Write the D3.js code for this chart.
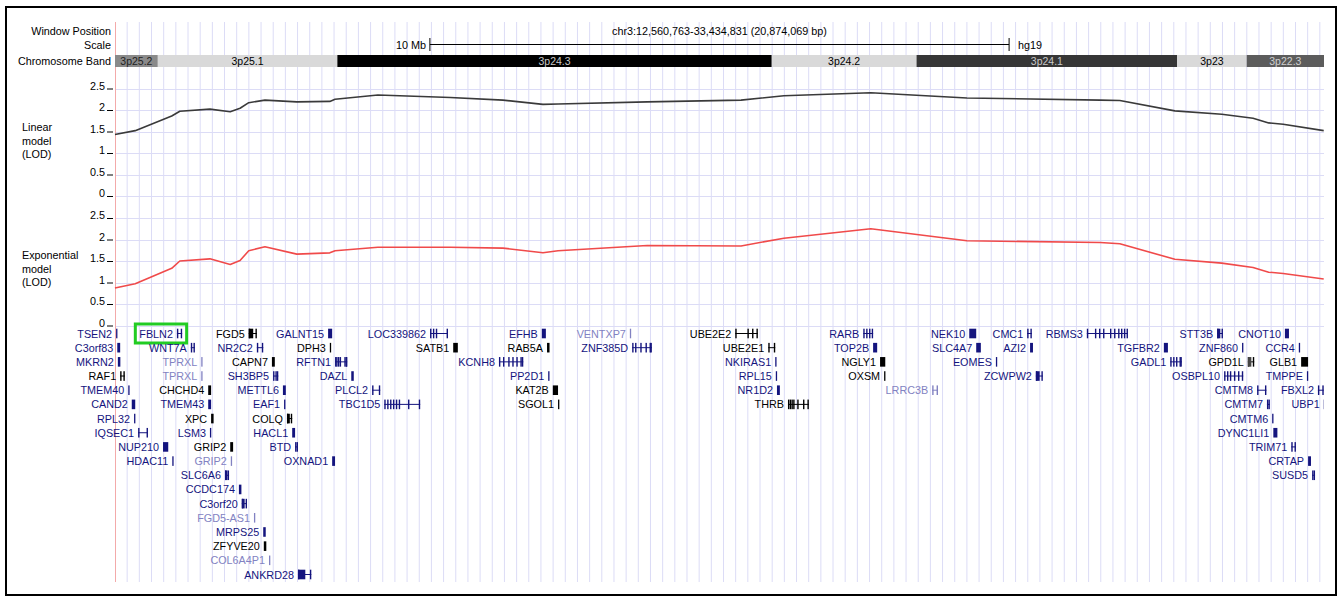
<!DOCTYPE html>
<html>
<head>
<meta charset="utf-8">
<script src="https://cdn.jsdelivr.net/npm/d3@7"></script>
<style>
  body { margin: 0; background: #fff; }
  svg text { font-family: "Liberation Sans", Arial, Helvetica, sans-serif; }
</style>
</head>
<body>
<svg id="chart"></svg>
<script>
// window shown in the browser (Mb)
const windowStart = 12.560763;
const windowEnd = 33.434831;
const windowLabel = "chr3:12,560,763-33,434,831 (20,874,069 bp)";
const assembly = "hg19";
const scaleBarMb = 10;

// cytobands
const bandNames = ["3p25.2", "3p25.1", "3p24.3", "3p24.2", "3p24.1", "3p23", "3p22.3"];
const bandStarts = [12.2, 13.3, 16.4, 23.9, 26.4, 30.9, 32.1];
const bandEnds = [13.3, 16.4, 23.9, 26.4, 30.9, 32.1, 36.5];
const bandStains = ["gpos50", "gneg", "gpos100", "gneg", "gpos75", "gneg", "gpos66"];

// LOD score tracks, marker positions in Mb
const markerPos = [12.56, 12.91, 13.54, 13.68, 14.20, 14.55, 14.72, 14.87, 15.15, 15.70,
  16.27, 16.36, 17.10, 18.35, 19.26, 19.95, 20.21, 21.75, 23.37, 24.11,
  25.61, 27.27, 29.57, 29.91, 30.86, 31.67, 32.21, 32.48, 32.73, 33.43];
const linearLod = [1.43, 1.52, 1.86, 1.97, 2.02, 1.96, 2.04, 2.17, 2.23, 2.19,
  2.20, 2.25, 2.35, 2.29, 2.23, 2.13, 2.14, 2.19, 2.23, 2.33,
  2.40, 2.28, 2.23, 2.22, 1.98, 1.90, 1.81, 1.70, 1.67, 1.52];
const expLod = [0.87, 0.97, 1.33, 1.50, 1.55, 1.42, 1.51, 1.74, 1.83, 1.66,
  1.69, 1.74, 1.82, 1.82, 1.80, 1.69, 1.74, 1.86, 1.85, 2.03,
  2.25, 1.97, 1.93, 1.90, 1.54, 1.45, 1.35, 1.24, 1.21, 1.08];
const lodTicks = [0, 0.5, 1, 1.5, 2, 2.5];

// genes: name, row, start Mb, end Mb, class (n = coding, k = black, l = non-coding), shape
const genes = [
  ["TSEN2", 0, 12.58, 12.60, "n", "thin"],
  ["FBLN2", 0, 13.63, 13.72, "n", "H"],
  ["FGD5", 0, 14.87, 15.01, "k", "HB"],
  ["GALNT15", 0, 16.24, 16.31, "n", "block"],
  ["LOC339862", 0, 18.00, 18.31, "n", "multi"],
  ["EFHB", 0, 19.93, 20.00, "n", "block"],
  ["VENTXP7", 0, 21.45, 21.46, "l", "thin"],
  ["UBE2E2", 0, 23.27, 23.66, "k", "multi"],
  ["RARB", 0, 25.48, 25.65, "n", "multi"],
  ["NEK10", 0, 27.31, 27.43, "n", "block"],
  ["CMC1", 0, 28.31, 28.39, "n", "H"],
  ["RBMS3", 0, 29.34, 30.05, "n", "multi"],
  ["STT3B", 0, 31.59, 31.69, "n", "HB"],
  ["CNOT10", 0, 32.76, 32.83, "n", "block"],
  ["C3orf83", 1, 12.60, 12.65, "n", "block"],
  ["WNT7A", 1, 13.87, 13.94, "n", "H"],
  ["NR2C2", 1, 15.01, 15.12, "n", "H"],
  ["DPH3", 1, 16.27, 16.28, "k", "thin"],
  ["SATB1", 1, 18.40, 18.48, "k", "block"],
  ["RAB5A", 1, 20.02, 20.05, "k", "block"],
  ["ZNF385D", 1, 21.49, 21.83, "n", "multi"],
  ["UBE2E1", 1, 23.84, 23.96, "k", "H"],
  ["TOP2B", 1, 25.65, 25.72, "n", "block"],
  ["SLC4A7", 1, 27.43, 27.51, "n", "block"],
  ["AZI2", 1, 28.36, 28.41, "n", "block"],
  ["TGFBR2", 1, 30.67, 30.74, "n", "block"],
  ["ZNF860", 1, 32.02, 32.05, "n", "thin"],
  ["CCR4", 1, 33.00, 33.01, "n", "thin"],
  ["MKRN2", 2, 12.61, 12.65, "n", "block"],
  ["TPRXL", 2, 14.05, 14.08, "l", "thin"],
  ["CAPN7", 2, 15.27, 15.32, "k", "block"],
  ["RFTN1", 2, 16.36, 16.57, "n", "multi"],
  ["KCNH8", 2, 19.19, 19.61, "n", "multi"],
  ["NKIRAS1", 2, 23.96, 23.99, "n", "thin"],
  ["NGLY1", 2, 25.77, 25.86, "k", "block"],
  ["EOMES", 2, 27.77, 27.78, "n", "thin"],
  ["GADL1", 2, 30.78, 30.98, "n", "multi"],
  ["GPD1L", 2, 32.12, 32.23, "k", "HB"],
  ["GLB1", 2, 33.04, 33.16, "k", "block"],
  ["RAF1", 3, 12.65, 12.73, "k", "H"],
  ["TPRXL", 3, 14.05, 14.10, "l", "thin"],
  ["SH3BP5", 3, 15.29, 15.38, "n", "multi"],
  ["DAZL", 3, 16.64, 16.67, "n", "block"],
  ["PP2D1", 3, 20.04, 20.07, "n", "thin"],
  ["RPL15", 3, 23.97, 23.99, "n", "thin"],
  ["OXSM", 3, 25.84, 25.87, "k", "thin"],
  ["ZCWPW2", 3, 28.46, 28.58, "n", "HB"],
  ["OSBPL10", 3, 31.71, 32.04, "n", "multi"],
  ["TMPPE", 3, 33.14, 33.15, "n", "thin"],
  ["TMEM40", 4, 12.79, 12.84, "n", "thin"],
  ["CHCHD4", 4, 14.17, 14.22, "k", "block"],
  ["METTL6", 4, 15.46, 15.51, "n", "block"],
  ["PLCL2", 4, 17.00, 17.14, "n", "H"],
  ["KAT2B", 4, 20.12, 20.21, "k", "block"],
  ["NR1D2", 4, 23.99, 24.04, "n", "block"],
  ["LRRC3B", 4, 26.67, 26.77, "l", "H"],
  ["CMTM8", 4, 32.28, 32.44, "n", "H"],
  ["FBXL2", 4, 33.33, 33.43, "n", "H"],
  ["CAND2", 5, 12.85, 12.91, "n", "block"],
  ["TMEM43", 5, 14.17, 14.22, "n", "block"],
  ["EAF1", 5, 15.48, 15.51, "n", "thin"],
  ["TBC1D5", 5, 17.21, 17.83, "n", "multi"],
  ["SGOL1", 5, 20.21, 20.24, "k", "thin"],
  ["THRB", 5, 24.18, 24.54, "k", "multi"],
  ["CMTM7", 5, 32.45, 32.50, "n", "H"],
  ["UBP1", 5, 33.43, 33.48, "n", "block"],
  ["RPL32", 6, 12.89, 12.90, "n", "thin"],
  ["XPC", 6, 14.22, 14.25, "k", "block"],
  ["COLQ", 6, 15.53, 15.62, "k", "HB"],
  ["CMTM6", 6, 32.54, 32.56, "n", "thin"],
  ["IQSEC1", 7, 12.96, 13.13, "n", "H"],
  ["LSM3", 7, 14.20, 14.23, "n", "thin"],
  ["HACL1", 7, 15.62, 15.67, "n", "block"],
  ["DYNC1LI1", 7, 32.56, 32.63, "n", "block"],
  ["NUP210", 8, 13.39, 13.48, "n", "block"],
  ["GRIP2", 8, 14.55, 14.60, "k", "block"],
  ["BTD", 8, 15.67, 15.72, "n", "H"],
  ["TRIM71", 8, 32.87, 32.95, "n", "H"],
  ["HDAC11", 9, 13.55, 13.56, "n", "thin"],
  ["GRIP2", 9, 14.56, 14.60, "l", "thin"],
  ["OXNAD1", 9, 16.31, 16.36, "n", "block"],
  ["CRTAP", 9, 33.16, 33.21, "n", "block"],
  ["SLC6A6", 10, 14.46, 14.53, "n", "HB"],
  ["SUSD5", 10, 33.23, 33.28, "n", "H"],
  ["CCDC174", 11, 14.70, 14.74, "n", "block"],
  ["C3orf20", 12, 14.75, 14.84, "n", "HB"],
  ["FGD5-AS1", 13, 14.96, 15.01, "l", "thin"],
  ["MRPS25", 14, 15.12, 15.14, "n", "block"],
  ["ZFYVE20", 15, 15.13, 15.17, "k", "block"],
  ["COL6A4P1", 16, 15.22, 15.25, "l", "thin"],
  ["ANKRD28", 17, 15.72, 15.95, "n", "HB"]
];

// exon ticks for the multi-exon genes (Mb)
const exonTicks = {
  LOC339862: [18.00, 18.05, 18.10, 18.31],
  UBE2E2: [23.27, 23.48, 23.56, 23.66],
  RARB: [25.48, 25.53, 25.58, 25.64],
  RBMS3: [29.34, 29.48, 29.55, 29.62, 29.74, 29.81, 29.88, 29.93, 29.98, 30.03],
  ZNF385D: [21.49, 21.54, 21.63, 21.72, 21.79, 21.83],
  RFTN1: [16.36, 16.38, 16.41, 16.44, 16.52, 16.55, 16.57],
  KCNH8: [19.19, 19.26, 19.35, 19.42, 19.49, 19.56, 19.61],
  GADL1: [30.78, 30.83, 30.88, 30.94, 30.98],
  SH3BP5: [15.29, 15.33, 15.38],
  OSBPL10: [31.71, 31.76, 31.81, 31.88, 31.95, 32.02],
  TBC1D5: [17.21, 17.26, 17.31, 17.36, 17.41, 17.46, 17.62, 17.83],
  THRB: [24.18, 24.21, 24.24, 24.27, 24.34, 24.44, 24.54]
};
const highlightGene = "FBLN2";

const W = 1341, H = 597;
const left = 115, right = 1324;
const font = 10.8;

const stainColor = { gneg: "#d9d9d9", gpos50: "#8a8a8a", gpos66: "#5c5c5c", gpos75: "#363636", gpos100: "#000" };
const stainText = { gneg: "#000", gpos50: "#222", gpos66: "#cfcfcf", gpos75: "#c8c8c8", gpos100: "#c8c8c8" };
const geneColor = { n: "#14147e", k: "#000", l: "#8282c2" };
const gridColor = "#dcdcf6";

const svg = d3.select("#chart").attr("width", W).attr("height", H);

const x = d3.scaleLinear().domain([windowStart, windowEnd]).range([left, right]);
const yLin = d3.scaleLinear().domain([0, 2.5]).range([196, 88.5]);
const yExp = d3.scaleLinear().domain([0, 2.5]).range([325.5, 218]);
const rowY = d3.scaleLinear().domain([0, 17]).range([333.5, 574.5]);

svg.append("defs").append("clipPath").attr("id", "dataClip")
  .append("rect").attr("x", left).attr("y", 0).attr("width", right - left).attr("height", H);

// --- guidelines ---
const grid = svg.append("g");
grid.selectAll("line.v")
  .data(d3.range(1, 100))
  .join("line")
  .attr("class", "v")
  .attr("x1", d => left + d * 12.17).attr("x2", d => left + d * 12.17)
  .attr("y1", 22).attr("y2", 582)
  .attr("stroke", gridColor).attr("stroke-width", 1);

[yLin, yExp].forEach(y => {
  grid.selectAll(null)
    .data(lodTicks)
    .join("line")
    .attr("x1", left).attr("x2", right)
    .attr("y1", d => Math.round(y(d)) + 0.5).attr("y2", d => Math.round(y(d)) + 0.5)
    .attr("stroke", gridColor).attr("stroke-width", 1);
});

grid.append("line")
  .attr("x1", left + 0.5).attr("x2", left + 0.5)
  .attr("y1", 22).attr("y2", 582)
  .attr("stroke", "#f3aaaa").attr("stroke-width", 1);

// --- header rows ---
const header = svg.append("g").attr("font-size", font);
[["Window Position", 35], ["Scale", 49], ["Chromosome Band", 65]].forEach(([t, y]) => {
  header.append("text").attr("x", 111).attr("y", y).attr("text-anchor", "end").text(t);
});

header.append("text")
  .attr("x", (left + right) / 2).attr("y", 35)
  .attr("text-anchor", "middle")
  .text(windowLabel);

const mid = (windowStart + windowEnd) / 2;
const sb0 = x(mid - scaleBarMb / 2), sb1 = x(mid + scaleBarMb / 2);
header.append("line").attr("x1", sb0).attr("x2", sb1).attr("y1", 44.5).attr("y2", 44.5).attr("stroke", "#000");
[sb0, sb1].forEach(v => {
  header.append("line").attr("x1", v).attr("x2", v).attr("y1", 38).attr("y2", 51).attr("stroke", "#000");
});
header.append("text").attr("x", sb0 - 4).attr("y", 49).attr("text-anchor", "end").text(scaleBarMb + " Mb");
header.append("text").attr("x", sb1 + 9).attr("y", 49).text(assembly);

// chromosome bands
const bands = svg.append("g").attr("clip-path", "url(#dataClip)");
const bandData = bandNames.map((n, i) => ({ name: n, s: bandStarts[i], e: bandEnds[i], stain: bandStains[i] }));
bands.selectAll("rect")
  .data(bandData)
  .join("rect")
  .attr("x", d => x(d.s)).attr("width", d => x(d.e) - x(d.s))
  .attr("y", 55).attr("height", 12)
  .attr("fill", d => stainColor[d.stain]);
bands.selectAll("text")
  .data(bandData)
  .join("text")
  .attr("x", d => (Math.max(x(d.s), left) + Math.min(x(d.e), right)) / 2)
  .attr("y", 64.5)
  .attr("text-anchor", "middle")
  .attr("font-size", 10.5)
  .attr("fill", d => stainText[d.stain])
  .text(d => d.name);

// --- LOD tracks ---
function drawTrack(y, values, color, labelLines, labelY) {
  const g = svg.append("g");
  const axis = d3.axisLeft(y).tickValues(lodTicks).tickSize(6).tickPadding(2).tickFormat(d => String(d));
  const ax = g.append("g").attr("transform", `translate(113,0)`).call(axis);
  ax.select(".domain").remove();
  ax.selectAll(".tick line").attr("stroke", "#000");
  ax.selectAll(".tick text")
    .attr("dy", "0.05em")
    .attr("font-size", font)
    .attr("font-family", "Liberation Sans, Arial, sans-serif")
    .attr("fill", "#000");

  const line = d3.line()
    .x((d, i) => x(markerPos[i]))
    .y(d => y(d));
  g.append("path")
    .datum(values)
    .attr("d", line)
    .attr("fill", "none")
    .attr("stroke", color)
    .attr("stroke-width", 1.6)
    .attr("stroke-linejoin", "round");

  labelLines.forEach((t, i) => {
    g.append("text").attr("x", 22).attr("y", labelY + i * 13.5)
      .attr("font-size", font).text(t);
  });
}
drawTrack(yLin, linearLod, "#3a3a3a", ["Linear", "model", "(LOD)"], 131);
drawTrack(yExp, expLod, "#f04a4a", ["Exponential", "model", "(LOD)"], 259);

// --- gene track ---
const geneG = svg.append("g");
const glyphs = geneG.append("g").attr("clip-path", "url(#dataClip)");
const half = 4.8;

genes.forEach(([name, row, s, e, cls, shape]) => {
  const cy = rowY(row);
  const col = geneColor[cls];
  const x0 = x(s), x1 = Math.max(x(e), x0 + 1.2);

  if (shape === "thin") {
    glyphs.append("rect").attr("x", x0).attr("y", cy - half).attr("width", 1.3).attr("height", half * 2).attr("fill", col);
  } else if (shape === "block") {
    glyphs.append("rect").attr("x", x0).attr("y", cy - half).attr("width", Math.max(x1 - x0, 2.5)).attr("height", half * 2).attr("fill", col);
  } else {
    glyphs.append("line").attr("x1", x0).attr("x2", x1).attr("y1", cy).attr("y2", cy).attr("stroke", col).attr("stroke-width", 1);
    const ticks = shape === "multi" ? exonTicks[name] : [s, e];
    ticks.forEach(t => {
      glyphs.append("rect").attr("x", Math.min(x(t), x1 - 1.4)).attr("y", cy - half)
        .attr("width", 1.4).attr("height", half * 2).attr("fill", col);
    });
    if (shape === "HB") {
      glyphs.append("rect").attr("x", x0).attr("y", cy - half)
        .attr("width", Math.max((x1 - x0) * 0.55, 2.5)).attr("height", half * 2)
        .attr("fill", cls === "k" && name === "GPD1L" ? "#444" : col);
    }
  }

  const label = geneG.append("text")
    .attr("x", x0 - 4).attr("y", cy + 4)
    .attr("text-anchor", "end")
    .attr("font-size", font)
    .attr("fill", col)
    .text(name);

  if (name === highlightGene) {
    const bb = label.node().getBBox();
    geneG.append("rect")
      .attr("x", bb.x - 4).attr("y", cy - 9.5)
      .attr("width", x1 + 4.5 - (bb.x - 4)).attr("height", 19)
      .attr("fill", "none").attr("stroke", "#22cc22").attr("stroke-width", 3);
  }
});

// outer frame
svg.append("rect")
  .attr("x", 6).attr("y", 7).attr("width", 1330).attr("height", 588)
  .attr("fill", "none").attr("stroke", "#000").attr("stroke-width", 2);
</script>
</body>
</html>
